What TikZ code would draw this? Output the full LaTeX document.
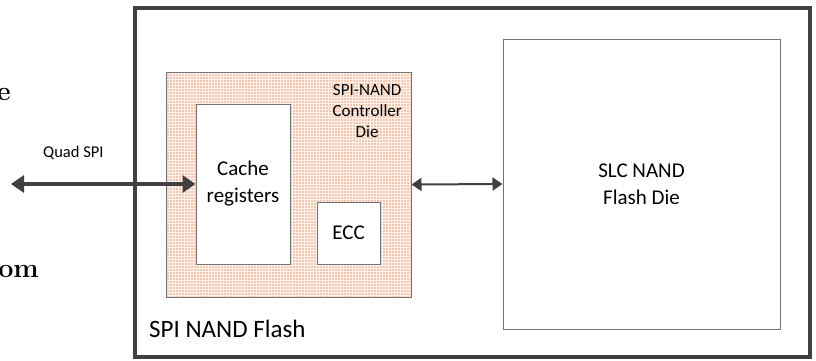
\documentclass[tikz,border=0pt]{standalone}
\usepackage{fontspec}
\newfontfamily\calibri{Carlito}
\usetikzlibrary{positioning,patterns,arrows.meta}
\definecolor{boxgray}{RGB}{64,64,64}
\definecolor{linegray}{RGB}{115,115,115}
\definecolor{dotorange}{RGB}{238,155,110}
\pgfdeclarepatternformonly{peachdots}{\pgfqpoint{-1pt}{-1pt}}{\pgfqpoint{1pt}{1pt}}{\pgfqpoint{3pt}{3pt}}{%
	\pgfpathcircle{\pgfqpoint{0pt}{0pt}}{0.85pt}%
	\pgfusepath{fill}}
\begin{document}
\begin{tikzpicture}[x=1pt,y=-1pt,
		block/.style={draw=linegray,line width=1pt,fill=white,inner sep=0pt},
		lbl/.style={font=\calibri\fontsize{21}{27}\selectfont,align=center},
		bus/.style={boxgray,line width=4pt,{Triangle[length=13pt,width=17pt]}-{Triangle[length=13pt,width=17pt]}},
		link/.style={boxgray,line width=2pt,{Triangle[length=10pt,width=13pt]}-{Triangle[length=10pt,width=13pt]}}
		]
	\useasboundingbox (0,0) rectangle (816,360);
	% package outline
	\node [draw=boxgray,line width=4pt,inner sep=0pt,minimum width=675pt,minimum height=349.5pt] (pkg) at (472.5,182.25) {};
	\node [font=\calibri\fontsize{25}{30}\selectfont,anchor=base west,inner sep=0pt] (pkgname) at (149,337) {SPI NAND Flash};
	% controller die
	\node [draw=linegray,line width=1pt,preaction={fill=dotorange!12},pattern=peachdots,pattern color=dotorange,inner sep=0pt,minimum width=245pt,minimum height=225pt] (ctrl) at (288.5,184.5) {};
	\node [font=\calibri\fontsize{17}{21}\selectfont,align=center,anchor=north east,inner sep=0pt] (ctrlname) at (402,84) {SPI-NAND\\Controller\\Die};
	\node [block,lbl,minimum width=94pt,minimum height=160pt] (cache) at (243,184) {Cache\\registers};
	\node [block,lbl,minimum width=63pt,minimum height=62pt] (ecc) at (348.5,233) {ECC};
	% flash die
	\node [block,lbl,minimum width=277pt,minimum height=290pt] (slc) at (641.5,184) {SLC NAND\\Flash Die};
	% buses
	\coordinate (host) at (11,184);
	\node [font=\calibri\fontsize{16.5}{19}\selectfont,anchor=base west,inner sep=0pt] (qspi) at (43,157) {Quad SPI};
	\draw [bus] (host) -- (cache.west);
	\draw [link] (ctrl.east) -- (slc.west);
	% cut-off page text
	\node [font=\fontsize{27}{30}\selectfont\bfseries,anchor=base east,inner sep=0pt] (frag1) at (11,100) {e};
	\node [font=\fontsize{27}{30}\selectfont\bfseries,anchor=base east,inner sep=0pt] (frag2) at (39,277) {rom};
\end{tikzpicture}
\end{document}
